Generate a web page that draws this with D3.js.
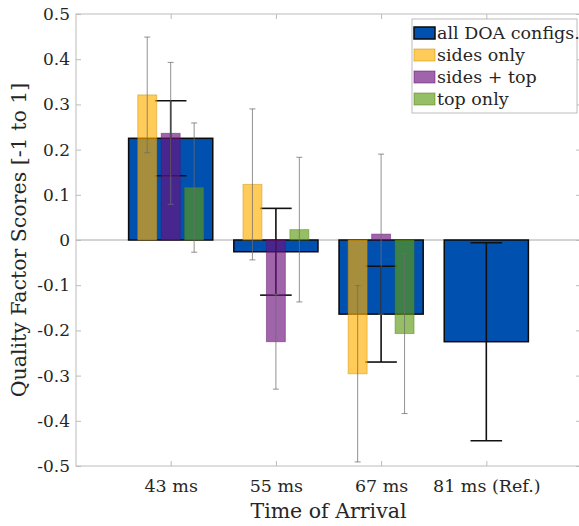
<!DOCTYPE html>
<html>
<head>
<meta charset="utf-8">
<script src="https://d3js.org/d3.v7.min.js"></script>
<style>
  body { margin: 0; background: #ffffff; }
  svg { display: block; font-family: "DejaVu Serif", "Liberation Serif", serif; }
</style>
</head>
<body>
<div id="chart"></div>
<script>
// Data
const categories = ['43 ms', '55 ms', '67 ms', '81 ms (Ref.)'];
const allMean = [0.225, -0.026, -0.164, -0.225];
const allErr = [0.083, 0.096, 0.106, 0.219];
const sidesMean = [0.321, 0.123, -0.296, null];
const sidesErr = [0.128, 0.167, 0.195, null];
const sidesTopMean = [0.236, -0.225, 0.013, null];
const sidesTopErr = [0.157, 0.105, 0.177, null];
const topMean = [0.116, 0.023, -0.207, null];
const topErr = [0.143, 0.160, 0.177, null];
const yTicks = [0.5, 0.4, 0.3, 0.2, 0.1, 0, -0.1, -0.2, -0.3, -0.4, -0.5];

const width = 579, height = 526;
const plotLeft = 76, plotRight = 581, plotTop = 14, plotBottom = 466;
const textColor = '#262626';
const axisColor = '#bcbcbc';

const svg = d3.select('#chart').append('svg')
    .attr('width', width)
    .attr('height', height);

const x = d3.scaleLinear().domain([0.1, 4.9]).range([plotLeft, plotRight]);
const y = d3.scaleLinear().domain([-0.5, 0.5]).range([plotBottom, plotTop]);
const unit = x(1) - x(0);

// sub-series config
const subSeries = [
    { name: 'sides only', mean: sidesMean, err: sidesErr, offset: -0.223, fill: '#ffaf00', stroke: '#c98a00' },
    { name: 'sides + top', mean: sidesTopMean, err: sidesTopErr, offset: 0, fill: '#6d117d', stroke: '#5a0e68' },
    { name: 'top only', mean: topMean, err: topErr, offset: 0.223, fill: '#5e9b11', stroke: '#4c7e0e' }
];
const subWidth = 0.18;
const mainWidth = 0.8;
const fillAlpha = 0.65;

svg.append('clipPath').attr('id', 'plotclip')
    .append('rect')
    .attr('x', plotLeft).attr('y', plotTop)
    .attr('width', plotRight - plotLeft).attr('height', plotBottom - plotTop);

const plot = svg.append('g').attr('clip-path', 'url(#plotclip)');

// zero baseline
plot.append('line')
    .attr('x1', plotLeft).attr('x2', plotRight)
    .attr('y1', y(0)).attr('y2', y(0))
    .attr('stroke', '#a8a8a8').attr('stroke-width', 1);

const idx = d3.range(categories.length);

// main bars
plot.selectAll('rect.main')
    .data(idx)
    .enter()
    .append('rect')
    .attr('class', 'main')
    .attr('x', i => x(i + 1 - mainWidth / 2))
    .attr('width', mainWidth * unit)
    .attr('y', i => y(Math.max(0, allMean[i])))
    .attr('height', i => Math.abs(y(allMean[i]) - y(0)))
    .attr('fill', '#0050b0')
    .attr('stroke', '#0a0a0a')
    .attr('stroke-width', 1.5);

// main error bars (drawn under the translucent bars)
const capHalf = 0.15;
const mainErr = plot.append('g');
idx.forEach(i => {
    const cx = x(i + 1);
    const lo = y(allMean[i] - allErr[i]), hi = y(allMean[i] + allErr[i]);
    mainErr.append('line').attr('x1', cx).attr('x2', cx).attr('y1', lo).attr('y2', hi);
    mainErr.append('line').attr('x1', x(i + 1 - capHalf)).attr('x2', x(i + 1 + capHalf)).attr('y1', lo).attr('y2', lo);
    mainErr.append('line').attr('x1', x(i + 1 - capHalf)).attr('x2', x(i + 1 + capHalf)).attr('y1', hi).attr('y2', hi);
});
mainErr.selectAll('line').attr('stroke', '#111111').attr('stroke-width', 1.6);

// sub-series bars
subSeries.forEach(s => {
    const valid = idx.filter(i => s.mean[i] !== null);
    plot.append('g').selectAll('rect')
        .data(valid)
        .enter()
        .append('rect')
        .attr('x', i => x(i + 1 + s.offset - subWidth / 2))
        .attr('width', subWidth * unit)
        .attr('y', i => y(Math.max(0, s.mean[i])))
        .attr('height', i => Math.abs(y(s.mean[i]) - y(0)))
        .attr('fill', s.fill)
        .attr('fill-opacity', fillAlpha)
        .attr('stroke', s.stroke)
        .attr('stroke-opacity', 0.45)
        .attr('stroke-width', 1);
});

// sub-series error bars (thin, gray)
const subErrG = plot.append('g');
subSeries.forEach(s => {
    idx.filter(i => s.mean[i] !== null).forEach(i => {
        const cx = x(i + 1 + s.offset);
        const lo = y(s.mean[i] - s.err[i]), hi = y(s.mean[i] + s.err[i]);
        subErrG.append('line').attr('x1', cx).attr('x2', cx).attr('y1', lo).attr('y2', hi);
        subErrG.append('line').attr('x1', cx - 3).attr('x2', cx + 3).attr('y1', lo).attr('y2', lo);
        subErrG.append('line').attr('x1', cx - 3).attr('x2', cx + 3).attr('y1', hi).attr('y2', hi);
    });
});
subErrG.selectAll('line').attr('stroke', '#6e6e6e').attr('stroke-opacity', 0.75).attr('stroke-width', 1);

// axes box
const axes = svg.append('g');
axes.append('rect')
    .attr('x', plotLeft).attr('y', plotTop)
    .attr('width', plotRight - plotLeft).attr('height', plotBottom - plotTop)
    .attr('fill', 'none').attr('stroke', axisColor).attr('stroke-width', 1);

// y ticks (left + right, inward); plain hyphen for negatives like the original
const yAxis = d3.axisLeft(y).tickValues(yTicks).tickSize(-5).tickPadding(6)
    .tickFormat(d => d === 0 ? '0' : d.toFixed(1));
const gy = axes.append('g').attr('transform', `translate(${plotLeft},0)`).call(yAxis);
gy.select('.domain').remove();
gy.selectAll('line').attr('stroke', axisColor);
gy.selectAll('text').attr('fill', textColor).style('font-size', '17px')
    .style('font-family', '"DejaVu Serif", serif');

const gyr = axes.append('g').attr('transform', `translate(${plotRight},0)`)
    .call(d3.axisRight(y).tickValues(yTicks).tickSize(-5).tickFormat(''));
gyr.select('.domain').remove();
gyr.selectAll('line').attr('stroke', axisColor);

// x ticks (bottom + top, inward)
const xAxis = d3.axisBottom(x).tickValues([1, 2, 3, 4]).tickSize(-5).tickPadding(14)
    .tickFormat(d => categories[d - 1]);
const gx = axes.append('g').attr('transform', `translate(0,${plotBottom})`).call(xAxis);
gx.select('.domain').remove();
gx.selectAll('line').attr('stroke', axisColor);
gx.selectAll('text').attr('fill', textColor).style('font-size', '17.5px')
    .style('font-family', '"DejaVu Serif", serif');

const gxt = axes.append('g').attr('transform', `translate(0,${plotTop})`)
    .call(d3.axisTop(x).tickValues([1, 2, 3, 4]).tickSize(-5).tickFormat(''));
gxt.select('.domain').remove();
gxt.selectAll('line').attr('stroke', axisColor);

// axis labels
svg.append('text')
    .attr('x', (plotLeft + plotRight) / 2)
    .attr('y', 518)
    .attr('text-anchor', 'middle')
    .attr('fill', textColor)
    .style('font-size', '20.5px')
    .text('Time of Arrival');

svg.append('text')
    .attr('transform', `translate(26,${(plotTop + plotBottom) / 2}) rotate(-90)`)
    .attr('text-anchor', 'middle')
    .attr('fill', textColor)
    .style('font-size', '20.5px')
    .text('Quality Factor Scores [-1 to 1]');

// legend
const legendItems = [
    { name: 'all DOA configs.', fill: '#0050b0', opacity: 1, stroke: '#0a0a0a' },
    ...subSeries.map(s => ({ name: s.name, fill: s.fill, opacity: fillAlpha, stroke: s.stroke }))
];
const legend = svg.append('g').attr('transform', 'translate(412,19)');
legend.append('rect')
    .attr('width', 165).attr('height', 94)
    .attr('fill', '#ffffff').attr('stroke', axisColor).attr('stroke-width', 1);
const rows = legend.selectAll('g.row')
    .data(legendItems)
    .enter()
    .append('g')
    .attr('class', 'row')
    .attr('transform', (d, i) => `translate(0,${14 + i * 22})`);
rows.append('rect')
    .attr('x', 2).attr('y', -6)
    .attr('width', 21).attr('height', 12)
    .attr('fill', d => d.fill)
    .attr('fill-opacity', d => d.opacity)
    .attr('stroke', d => d.stroke)
    .attr('stroke-opacity', d => d.opacity === 1 ? 1 : 0.5)
    .attr('stroke-width', d => d.opacity === 1 ? 1.5 : 1);
rows.append('text')
    .attr('x', 25).attr('y', 6)
    .attr('fill', textColor)
    .style('font-size', '17.5px')
    .text(d => d.name);
</script>
</body>
</html>
